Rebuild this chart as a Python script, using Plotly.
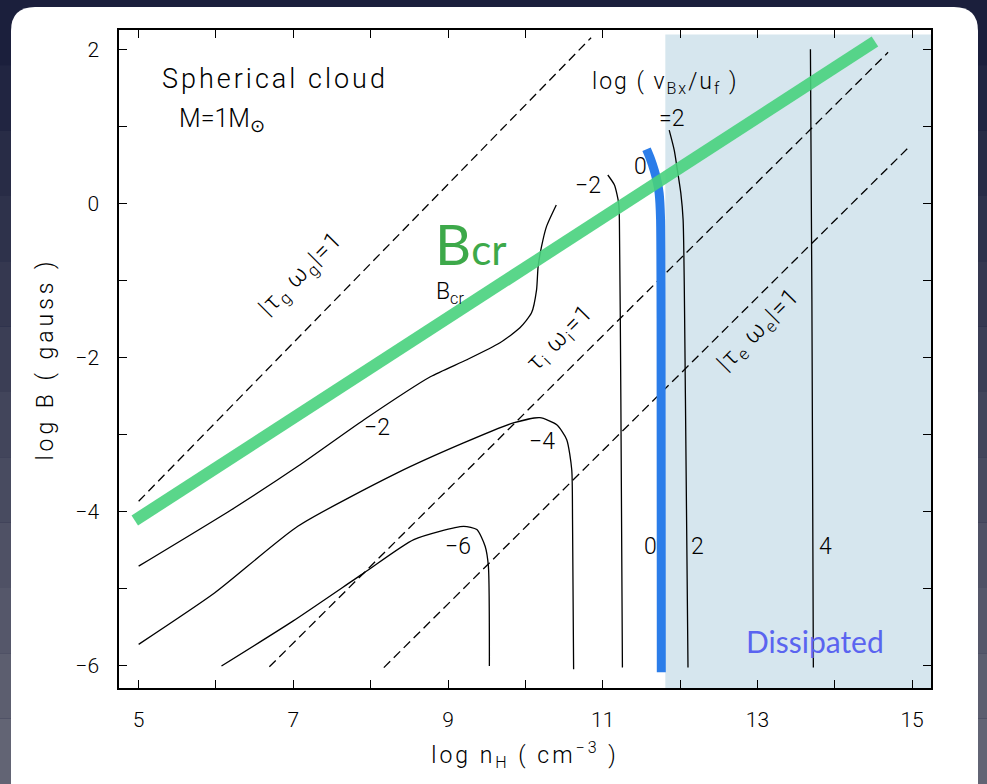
import plotly.graph_objects as go

# ---------------- data ----------------
x_tick_vals = [5, 7, 9, 11, 13, 15]
x_tick_text = ["5", "7", "9", "11", "13", "15"]
x_minor_vals = [6, 8, 10, 12, 14]
y_tick_vals = [-6, -4, -2, 0, 2]
y_tick_text = ["\u22126", "\u22124", "\u22122", "0", "2"]
y_minor_vals = [-5, -3, -1, 1]

x_range = [4.746, 15.245]
y_range = [-6.295, 2.25]

# critical field B_cr (thick green)
bcr_x = [4.95, 14.52]
bcr_y = [-4.12, 2.10]

# log(v_Bx/u_f) = 0 boundary (thick blue)
blue_x = [11.567, 11.62, 11.666, 11.705, 11.73, 11.748, 11.755, 11.758]
blue_y = [0.70, 0.57, 0.43, 0.28, 0.13, -0.20, -1.50, -6.09]

# dissipated region (shaded)
dissip_x = [11.81, 15.245]
dissip_y = [-6.295, 2.19]

# dashed lines |tau w| = 1
tau_g_x = [5.0, 10.85]
tau_g_y = [-3.87, 2.15]
tau_i_x = [6.69, 14.69]
tau_i_y = [-6.02, 1.96]
tau_e_x = [8.17, 14.95]
tau_e_y = [-6.03, 0.72]

# contours of log(v_Bx/u_f)
c_m2a_x = [5.0, 6.2, 7.058, 7.914, 8.772, 9.244, 9.672, 9.93, 10.08, 10.145, 10.165, 10.209, 10.273, 10.40]
c_m2a_y = [-4.713, -3.98, -3.416, -2.811, -2.253, -2.032, -1.812, -1.617, -1.423, -1.124, -0.822, -0.563, -0.303, -0.022]
c_m2b_x = [11.066, 11.152, 11.207, 11.216, 11.235, 11.255]
c_m2b_y = [0.367, 0.237, 0.0, -0.217, -2.55, -6.03]
c_p2_x = [11.86, 11.925, 11.966, 12.01, 12.04, 12.07, 12.103]
c_p2_y = [0.949, 0.69, 0.43, 0.134, -0.217, -2.55, -6.03]
c_p4_x = [13.686, 13.705, 13.724]
c_p4_y = [2.0, -1.254, -6.03]
c_m4_x = [5.0, 5.985, 7.058, 8.344, 9.201, 9.844, 10.187, 10.406, 10.535, 10.60, 10.61, 10.624]
c_m4_y = [-5.728, -5.058, -4.195, -3.502, -3.113, -2.853, -2.785, -2.876, -3.07, -3.46, -4.11, -6.05]
c_m6_x = [6.071, 6.994, 7.914, 8.558, 9.201, 9.373, 9.48, 9.522, 9.535]
c_m6_y = [-6.01, -5.427, -4.80, -4.367, -4.195, -4.237, -4.454, -4.713, -6.01]

# contour labels
clabel_text = ["\u22122", "\u22124", "\u22126", "\u22122", "0", "0", "2", "4"]
clabel_x = [8.086, 10.213, 9.135, 10.806, 11.495, 11.624, 12.22, 13.875]
clabel_y = [-2.918, -3.096, -4.458, 0.237, 0.475, -4.454, -4.454, -4.454]

# ---------------- layout geometry ----------------
W, H = 987, 784
L, R, T, B = 119, 931, 30, 688


def pxx(v):
    return (v - L) / (R - L)


def pxy(v):
    return (B - v) / (B - T)


def spaced(s, px):
    return '<span style="letter-spacing:%spx">%s</span>' % (px, s)


HERSHEY = "Roboto"
fig = go.Figure()

line_black = dict(color="black", width=1.3)
dash_black = dict(color="black", width=1.3, dash="9px,5px")

for xs, ys in [(tau_g_x, tau_g_y), (tau_i_x, tau_i_y), (tau_e_x, tau_e_y)]:
    fig.add_trace(go.Scatter(x=xs, y=ys, mode="lines", line=dash_black,
                             hoverinfo="skip", showlegend=False))

for xs, ys in [(c_m2a_x, c_m2a_y), (c_m2b_x, c_m2b_y), (c_p2_x, c_p2_y),
               (c_p4_x, c_p4_y), (c_m4_x, c_m4_y), (c_m6_x, c_m6_y)]:
    fig.add_trace(go.Scatter(x=xs, y=ys, mode="lines", line=dict(line_black, shape="spline", smoothing=0.6),
                             hoverinfo="skip", showlegend=False))

fig.add_trace(go.Scatter(x=blue_x, y=blue_y, mode="lines",
                         line=dict(color="#2b7de9", width=9, shape="spline", smoothing=0.6),
                         hoverinfo="skip", showlegend=False))
fig.add_trace(go.Scatter(x=bcr_x, y=bcr_y, mode="lines",
                         line=dict(color="rgba(72,210,125,0.9)", width=12),
                         hoverinfo="skip", showlegend=False))

# ---------------- shapes (background panel, shaded region) ----------------
shapes = []
top_c = (27, 31, 60)
bot_c = (98, 100, 116)
n = 12
for i in range(n):
    t = i / (n - 1)
    c = tuple(int(round(top_c[k] + (bot_c[k] - top_c[k]) * t)) for k in range(3))
    y0 = i * H / n
    y1 = (i + 1) * H / n
    shapes.append(dict(type="rect", xref="paper", yref="paper", layer="below",
                       x0=pxx(0), x1=pxx(W), y0=pxy(y1), y1=pxy(y0),
                       fillcolor="rgb(%d,%d,%d)" % c, line=dict(width=0)))
l, r, t, rad = 11, 978, 7, 24
path = ("M {a},{b} Q {c},{d} {e},{f} L {g},{f} Q {h},{d} {h},{b} L {h},{i} L {c},{i} Z").format(
    a=pxx(l), b=pxy(t + rad), c=pxx(l), d=pxy(t), e=pxx(l + rad), f=pxy(t),
    g=pxx(r - rad), h=pxx(r), i=pxy(H + 20))
shapes.append(dict(type="path", xref="paper", yref="paper", layer="below", path=path,
                   fillcolor="white", line=dict(width=0)))
shapes.append(dict(type="rect", xref="x", yref="y", layer="below",
                   x0=dissip_x[0], x1=dissip_x[1], y0=dissip_y[0], y1=dissip_y[1],
                   fillcolor="#d6e6ee", line=dict(width=0)))

# ---------------- annotations ----------------
ann = []
for s, x, y in zip(clabel_text, clabel_x, clabel_y):
    ann.append(dict(x=x, y=y, text=s, showarrow=False, xanchor="center", yanchor="middle",
                    font=dict(family=HERSHEY, size=23, color="black", weight=300)))

ann += [
    dict(x=5.274, y=1.612, text=spaced("Spherical cloud", 3), showarrow=False, xanchor="left", yanchor="middle",
         font=dict(family=HERSHEY, size=27, color="black", weight=300)),
    dict(x=5.49, y=1.08, text="M=1M<sub>\u2299</sub>", showarrow=False, xanchor="left", yanchor="middle",
         font=dict(family=HERSHEY, size=25, color="black", weight=300)),
    dict(x=10.84, y=1.56, text=spaced("log ( v<sub>Bx</sub>/u<sub>f</sub> )", 2), showarrow=False,
         xanchor="left", yanchor="middle",
         font=dict(family=HERSHEY, size=23, color="black", weight=300)),
    dict(x=11.886, y=1.106, text="=2", showarrow=False, xanchor="center", yanchor="middle",
         font=dict(family=HERSHEY, size=23, color="black", weight=300)),
    dict(x=9.03, y=-1.163, text="B<sub>cr</sub>", showarrow=False, xanchor="center", yanchor="middle",
         font=dict(family=HERSHEY, size=23, color="black", weight=300)),
    dict(x=9.30, y=-0.528, text="B<span style=\"font-size:42px\">cr</span>", showarrow=False,
         xanchor="center", yanchor="middle",
         font=dict(family="Lato", size=56, color="#3da94a")),
    dict(x=13.75, y=-5.69, text="Dissipated", showarrow=False, xanchor="center", yanchor="middle",
         font=dict(family="Lato", size=30, color="#5a64f0")),
    dict(x=7.10, y=-0.93, text=spaced("|\u03c4<sub>g</sub> \u03c9<sub>g</sub>|=1", 1.5), showarrow=False,
         textangle=-45, xanchor="center", yanchor="middle",
         font=dict(family=HERSHEY, size=24, color="black", weight=300)),
    dict(x=10.45, y=-1.75, text=spaced("\u03c4<sub>i</sub> \u03c9<sub>i</sub>=1", 1.5), showarrow=False,
         textangle=-45, xanchor="center", yanchor="middle",
         font=dict(family=HERSHEY, size=24, color="black", weight=300)),
    dict(x=13.016, y=-1.65, text=spaced("|\u03c4<sub>e</sub> \u03c9<sub>e</sub>|=1", 1.5), showarrow=False,
         textangle=-45, xanchor="center", yanchor="middle",
         font=dict(family=HERSHEY, size=24, color="black", weight=300)),
]

axis_common = dict(showline=True, linecolor="black", linewidth=1.5, mirror="allticks",
                   ticks="inside", ticklen=8, tickwidth=1.2, tickcolor="black",
                   showgrid=False, zeroline=False,
                   tickfont=dict(family=HERSHEY, size=21, color="black", weight=300))

fig.update_layout(
    width=W, height=H, autosize=False,
    margin=dict(l=L, r=W - R, t=T, b=H - B, pad=0),
    paper_bgcolor="rgb(27,31,60)", plot_bgcolor="rgba(0,0,0,0)",
    shapes=shapes, annotations=ann, showlegend=False,
    xaxis=dict(axis_common, range=x_range, tickmode="array", tickvals=x_tick_vals,
               ticktext=x_tick_text, ticklabelstandoff=12,
               minor=dict(tickmode="array", tickvals=x_minor_vals, ticks="inside", ticklen=8,
                          tickwidth=1.2, tickcolor="black", showgrid=False),
               title=dict(text=spaced("log n<sub>H</sub> ( cm<sup>\u22123</sup> )", 3), standoff=16,
                          font=dict(family=HERSHEY, size=23, color="black", weight=300))),
    yaxis=dict(axis_common, range=y_range, tickmode="array", tickvals=y_tick_vals,
               ticktext=y_tick_text, ticklabelstandoff=14,
               minor=dict(tickmode="array", tickvals=y_minor_vals, ticks="inside", ticklen=8,
                          tickwidth=1.2, tickcolor="black", showgrid=False),
               title=dict(text=spaced("log B ( gauss )", 4), standoff=15,
                          font=dict(family=HERSHEY, size=23, color="black", weight=300))),
)

fig.write_html("out.html", config={"displayModeBar": False},
               post_script="document.body.style.margin='0';document.body.style.background='rgb(27,31,60)';")
